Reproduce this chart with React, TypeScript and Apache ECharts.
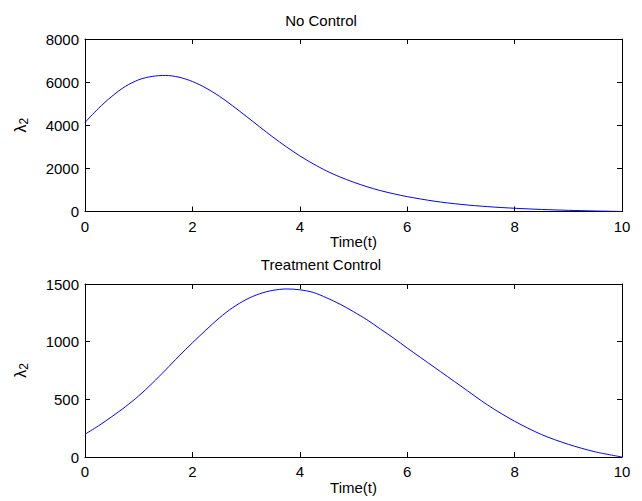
import React, { useEffect, useRef } from "react";
import * as echarts from "echarts";

const timeTop = [0, 0.25, 0.5, 0.75, 1, 1.25, 1.5, 1.75, 2, 2.25, 2.5, 2.75, 3, 3.25, 3.5, 3.75, 4, 4.25, 4.5, 4.75, 5, 5.25, 5.5, 5.75, 6, 6.5, 7, 7.5, 8, 8.5, 9, 9.5, 10];
const lambdaNoControl = [4130, 4780, 5340, 5800, 6110, 6265, 6310, 6230, 6030, 5730, 5350, 4900, 4420, 3930, 3450, 3000, 2580, 2210, 1880, 1600, 1360, 1150, 970, 820, 690, 480, 330, 225, 150, 95, 55, 25, 0];

const timeBottom = [0, 0.25, 0.5, 0.75, 1, 1.25, 1.5, 1.75, 2, 2.25, 2.5, 2.75, 3, 3.25, 3.5, 3.75, 4, 4.25, 4.5, 4.75, 5, 5.25, 5.5, 5.75, 6, 6.5, 7, 7.5, 8, 8.5, 9, 9.5, 10];
const lambdaTreatment = [197, 270, 350, 435, 530, 638, 755, 875, 990, 1100, 1205, 1295, 1365, 1415, 1445, 1457, 1450, 1427, 1380, 1325, 1260, 1190, 1110, 1030, 945, 780, 615, 450, 310, 195, 110, 45, 0];

const xTicks = { min: 0, max: 10, interval: 2 };
const yTopTicks = { min: 0, max: 8000, interval: 2000 };
const yBottomTicks = { min: 0, max: 1500, interval: 500 };

const titles = ["No Control", "Treatment Control"];
const xName = "Time(t)";

const FONT = "Liberation Sans, Arial, Helvetica, sans-serif";

export default function App() {
  const ref = useRef<HTMLDivElement>(null);
  useEffect(() => {
    if (!ref.current) return;
    const chart = echarts.init(ref.current, undefined, { renderer: "svg" });
    const lineStyle = { color: "#000", width: 1 };
    const tick = { show: true, inside: true, length: 5, lineStyle: { color: "#000", width: 1 } };
    const label = { color: "#000", fontSize: 15, fontFamily: FONT, formatter: (v: number) => String(v) };
    const yName = {
      name: "{l|λ}{s|2}",
      nameLocation: "middle" as const,
      nameRotate: 90,
      nameGap: 55,
      nameTextStyle: {
        rich: {
          l: { fontSize: 16, fontFamily: FONT, color: "#000" },
          s: { fontSize: 12, fontFamily: FONT, color: "#000", padding: [7, 0, 0, 0] },
        },
      },
    };
    const mainX = (gridIndex: number) => ({
      type: "value" as const,
      gridIndex,
      ...xTicks,
      position: "bottom" as const,
      axisLine: { show: true, onZero: false, lineStyle },
      axisTick: tick,
      axisLabel: { ...label, margin: 7 },
      splitLine: { show: false },
      name: xName,
      nameLocation: "middle" as const,
      nameGap: 21,
      nameTextStyle: { color: "#000", fontSize: 15, fontFamily: FONT },
    });
    const boxX = (gridIndex: number) => ({
      type: "value" as const,
      gridIndex,
      ...xTicks,
      position: "top" as const,
      axisLine: { show: true, onZero: false, lineStyle },
      axisTick: tick,
      axisLabel: { show: false },
      splitLine: { show: false },
    });
    const mainY = (gridIndex: number, ticks: any) => ({
      type: "value" as const,
      gridIndex,
      ...ticks,
      position: "left" as const,
      axisLine: { show: true, onZero: false, lineStyle },
      axisTick: tick,
      axisLabel: { ...label, margin: 6 },
      splitLine: { show: false },
      ...yName,
    });
    const boxY = (gridIndex: number, ticks: any) => ({
      type: "value" as const,
      gridIndex,
      ...ticks,
      position: "right" as const,
      axisLine: { show: true, onZero: false, lineStyle },
      axisTick: tick,
      axisLabel: { show: false },
      splitLine: { show: false },
    });
    chart.setOption({
      animation: false,
      backgroundColor: "#fff",
      title: [
        { text: titles[0], left: "center", top: 8, textStyle: { color: "#000", fontSize: 15, fontWeight: "normal", fontFamily: FONT } },
        { text: titles[1], left: "center", top: 252, textStyle: { color: "#000", fontSize: 15, fontWeight: "normal", fontFamily: FONT } },
      ],
      grid: [
        { left: 85, right: 20, top: 39, height: 172.5 },
        { left: 85, right: 20, top: 284, height: 173 },
      ],
      xAxis: [mainX(0), boxX(0), mainX(1), boxX(1)],
      yAxis: [mainY(0, yTopTicks), boxY(0, yTopTicks), mainY(1, yBottomTicks), boxY(1, yBottomTicks)],
      series: [
        {
          type: "line",
          xAxisIndex: 0,
          yAxisIndex: 0,
          data: timeTop.map((t, i) => [t, lambdaNoControl[i]]),
          smooth: 0.3,
          showSymbol: false,
          lineStyle: { color: "#0000ff", width: 1 },
        },
        {
          type: "line",
          xAxisIndex: 2,
          yAxisIndex: 2,
          data: timeBottom.map((t, i) => [t, lambdaTreatment[i]]),
          smooth: 0.3,
          showSymbol: false,
          lineStyle: { color: "#0000ff", width: 1 },
        },
      ],
    });
    return () => chart.dispose();
  }, []);
  return (
    <div
      ref={ref}
      style={{ position: "absolute", left: 0, top: 0, width: 642, height: 501, background: "#fff" }}
    />
  );
}
